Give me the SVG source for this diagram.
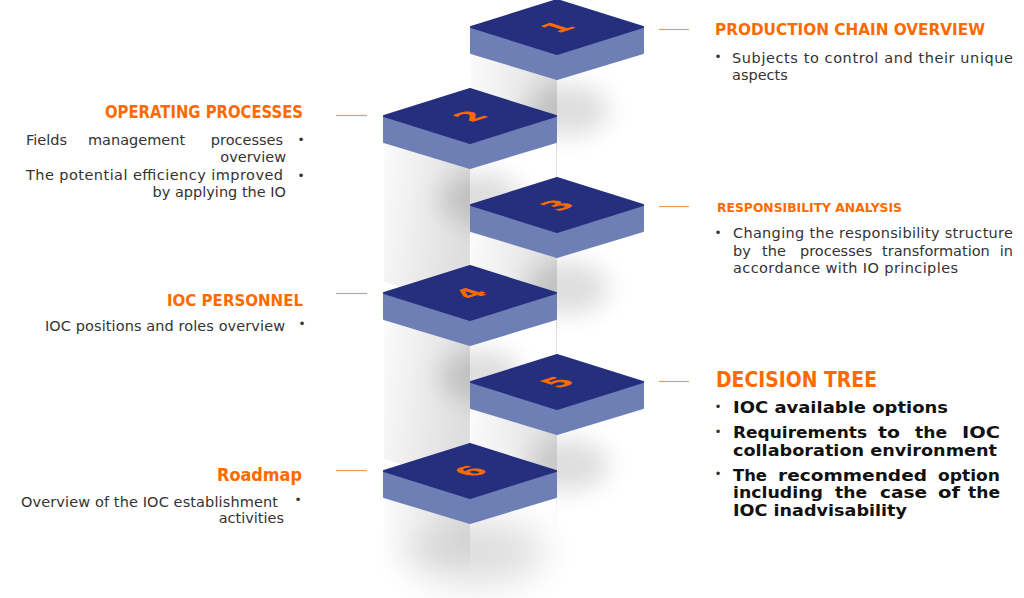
<svg xmlns="http://www.w3.org/2000/svg" xmlns:xlink="http://www.w3.org/1999/xlink" width="1024" height="598" viewBox="0 0 1024 598">
<defs>
<style>
.top{fill:#252f7e;stroke:#252f7e;stroke-width:2;stroke-linejoin:round}
.side{fill:#6e7fb5;stroke:#6e7fb5;stroke-width:2;stroke-linejoin:round}
.lf{fill:url(#gl)}
.rf{fill:#ffffff}
.sh{fill:#000;opacity:.13}
.num{font-family:"DejaVu Sans",sans-serif;font-weight:700;font-size:30px;fill:#ff6a00;text-anchor:middle}
.h{font-family:"DejaVu Sans",sans-serif;font-weight:700;fill:#ff6a00}
.b{font-family:"DejaVu Sans",sans-serif;font-size:14.5px;fill:#333333}
.bb{font-family:"DejaVu Sans",sans-serif;font-weight:700;font-size:15px;fill:#111111}
.dot{font-family:"DejaVu Sans",sans-serif;font-size:12px;fill:#333333;text-anchor:middle}
.con line{stroke:#f39a55;stroke-width:1.2}
</style>
<linearGradient id="gl" x1="0" y1="0" x2="1" y2="0.25">
<stop offset="0" stop-color="#fbfbfb"/>
<stop offset="1" stop-color="#dedede"/>
</linearGradient>
<linearGradient id="fade" x1="0" y1="0" x2="0" y2="1">
<stop offset="0" stop-color="#fff"/>
<stop offset="1" stop-color="#000"/>
</linearGradient>
<mask id="m5" maskUnits="userSpaceOnUse" x="-200" y="0" width="400" height="260">
<rect x="-200" y="0" width="400" height="80" fill="#fff"/>
<rect x="-200" y="79" width="400" height="100" fill="url(#fade)"/>
</mask>
<mask id="m6" maskUnits="userSpaceOnUse" x="-200" y="0" width="400" height="260">
<rect x="-200" y="0" width="400" height="60" fill="#fff"/>
<rect x="-200" y="59" width="400" height="70" fill="url(#fade)"/>
</mask>
<filter id="blur" x="-100%" y="-100%" width="300%" height="300%"><feGaussianBlur stdDeviation="12"/></filter>
<filter id="blur2" x="-100%" y="-100%" width="300%" height="300%"><feGaussianBlur stdDeviation="18"/></filter>
<g id="col">
<path class="lf" d="M-86,53 L0,79 L0,219 L-86,193 Z"/>
<path class="rf" d="M0,79 L86,53 L86,193 L0,219 Z"/>
</g>
<g id="tile">
<path class="side" d="M-86,27 L0,54 L86,27 L86,53 L0,79 L-86,53 Z"/>
<path class="top" d="M0,0 L86,27 L0,54 L-86,27 Z"/>
</g>
</defs>
<rect width="1024" height="598" fill="#ffffff"/>

<g id="step1" transform="translate(557,0)">
<use xlink:href="#col" href="#col"/>
<ellipse class="sh" cx="10" cy="110" rx="42" ry="26" filter="url(#blur)"/>
<use xlink:href="#tile" href="#tile"/>
<text class="num" transform="translate(0,27) matrix(0.954,-0.3,0.954,0.3,0,0)" x="0" y="11">1</text>
</g>
<g id="step2" transform="translate(470,89)">
<use xlink:href="#col" href="#col"/>
<ellipse class="sh" cx="10" cy="110" rx="42" ry="26" filter="url(#blur)"/>
<use xlink:href="#tile" href="#tile"/>
<text class="num" transform="translate(0,27) matrix(0.954,-0.3,0.954,0.3,0,0)" x="0" y="11">2</text>
</g>
<g id="step3" transform="translate(557,178)">
<use xlink:href="#col" href="#col"/>
<ellipse class="sh" cx="10" cy="110" rx="42" ry="26" filter="url(#blur)"/>
<use xlink:href="#tile" href="#tile"/>
<text class="num" transform="translate(0,27) matrix(0.954,-0.3,0.954,0.3,0,0)" x="0" y="11">3</text>
</g>
<g id="step4" transform="translate(470,266)">
<use xlink:href="#col" href="#col"/>
<ellipse class="sh" cx="10" cy="110" rx="42" ry="26" filter="url(#blur)"/>
<use xlink:href="#tile" href="#tile"/>
<text class="num" transform="translate(0,27) matrix(0.954,-0.3,0.954,0.3,0,0)" x="0" y="11">4</text>
</g>
<g id="step5" transform="translate(557,355)">
<use xlink:href="#col" href="#col" mask="url(#m5)"/>
<ellipse class="sh" cx="10" cy="110" rx="42" ry="26" filter="url(#blur)"/>
<use xlink:href="#tile" href="#tile"/>
<text class="num" transform="translate(0,27) matrix(0.954,-0.3,0.954,0.3,0,0)" x="0" y="11">5</text>
</g>
<g id="step6" transform="translate(470,444)">
<use xlink:href="#col" href="#col" mask="url(#m6)"/>
<ellipse class="sh" cx="5" cy="108" rx="70" ry="32" filter="url(#blur2)"/>
<use xlink:href="#tile" href="#tile"/>
<text class="num" transform="translate(0,27) matrix(0.954,-0.3,0.954,0.3,0,0)" x="0" y="11">6</text>
</g>

<g id="connectors" class="con">
<line x1="659" y1="29.5" x2="689" y2="29.5"/>
<line x1="336" y1="115.5" x2="367" y2="115.5"/>
<line x1="659" y1="206.5" x2="689" y2="206.5"/>
<line x1="336" y1="293.5" x2="367" y2="293.5"/>
<line x1="659" y1="381.5" x2="689" y2="381.5"/>
<line x1="336" y1="470.5" x2="367" y2="470.5"/>
</g>

<g id="label1">
<text class="h" x="715" y="35" font-size="16.5" textLength="270" lengthAdjust="spacingAndGlyphs">PRODUCTION CHAIN OVERVIEW</text>
<text class="dot" x="718" y="61">•</text>
<text class="b" x="732" y="62.5" textLength="281" lengthAdjust="spacing">Subjects to control and their unique</text>
<text class="b" x="732" y="79.5">aspects</text>
</g>

<g id="label2">
<text class="h" x="105" y="118" font-size="17.5" textLength="198" lengthAdjust="spacingAndGlyphs">OPERATING PROCESSES</text>
<text class="b" y="145"><tspan x="26">Fields</tspan><tspan x="88">management</tspan><tspan x="283" text-anchor="end">processes</tspan></text>
<text class="dot" x="301" y="143.5">•</text>
<text class="b" x="286" y="162" text-anchor="end">overview</text>
<text class="b" x="26" y="180" textLength="257" lengthAdjust="spacing">The potential efficiency improved</text>
<text class="dot" x="301" y="180">•</text>
<text class="b" x="286" y="197" text-anchor="end">by applying the IO</text>
</g>

<g id="label3">
<text class="h" x="717" y="212.3" font-size="13" textLength="185" lengthAdjust="spacingAndGlyphs">RESPONSIBILITY ANALYSIS</text>
<text class="dot" x="718" y="237">•</text>
<text class="b" x="733" y="238.3" textLength="280" lengthAdjust="spacing">Changing the responsibility structure</text>
<text class="b" y="255.8"><tspan x="733">by</tspan><tspan x="762">the</tspan><tspan x="800">processes</tspan><tspan x="882">transformation</tspan><tspan x="1013" text-anchor="end">in</tspan></text>
<text class="b" x="733" y="273.3" textLength="225" lengthAdjust="spacing">accordance with IO principles</text>
</g>

<g id="label4">
<text class="h" x="167" y="305.7" font-size="16.5" textLength="136" lengthAdjust="spacingAndGlyphs">IOC PERSONNEL</text>
<text class="b" x="45" y="330.7" textLength="240" lengthAdjust="spacing">IOC positions and roles overview</text>
<text class="dot" x="302" y="328">•</text>
</g>

<g id="label5">
<text class="h" x="716" y="386.7" font-size="20.5" textLength="161" lengthAdjust="spacingAndGlyphs">DECISION TREE</text>
<text class="dot" x="718" y="411" font-size="15" fill="#111">•</text>
<text class="bb" x="733" y="413.3" textLength="215" lengthAdjust="spacingAndGlyphs">IOC available options</text>
<text class="dot" x="718" y="436" font-size="15" fill="#111">•</text>
<text class="bb" y="438.3"><tspan x="733" textLength="134" lengthAdjust="spacingAndGlyphs">Requirements</tspan><tspan x="878" textLength="22" lengthAdjust="spacingAndGlyphs">to</tspan><tspan x="915" textLength="32" lengthAdjust="spacingAndGlyphs">the</tspan><tspan x="962" textLength="38" lengthAdjust="spacingAndGlyphs">IOC</tspan></text>
<text class="bb" x="733" y="456" textLength="264" lengthAdjust="spacingAndGlyphs">collaboration environment</text>
<text class="dot" x="718" y="478" font-size="15" fill="#111">•</text>
<text class="bb" y="481"><tspan x="733" textLength="34" lengthAdjust="spacingAndGlyphs">The</tspan><tspan x="778" textLength="149" lengthAdjust="spacingAndGlyphs">recommended</tspan><tspan x="938" textLength="62" lengthAdjust="spacingAndGlyphs">option</tspan></text>
<text class="bb" y="498.3"><tspan x="733" textLength="90" lengthAdjust="spacingAndGlyphs">including</tspan><tspan x="835" textLength="32" lengthAdjust="spacingAndGlyphs">the</tspan><tspan x="880" textLength="47" lengthAdjust="spacingAndGlyphs">case</tspan><tspan x="938" textLength="22" lengthAdjust="spacingAndGlyphs">of</tspan><tspan x="968" textLength="32" lengthAdjust="spacingAndGlyphs">the</tspan></text>
<text class="bb" x="733" y="516" textLength="174" lengthAdjust="spacingAndGlyphs">IOC inadvisability</text>
</g>

<g id="label6">
<text class="h" x="217" y="481" font-size="17" textLength="85" lengthAdjust="spacingAndGlyphs">Roadmap</text>
<text class="b" x="21" y="506.7" textLength="257" lengthAdjust="spacing">Overview of the IOC establishment</text>
<text class="dot" x="298" y="504">•</text>
<text class="b" x="284" y="523.3" text-anchor="end">activities</text>
</g>
</svg>
